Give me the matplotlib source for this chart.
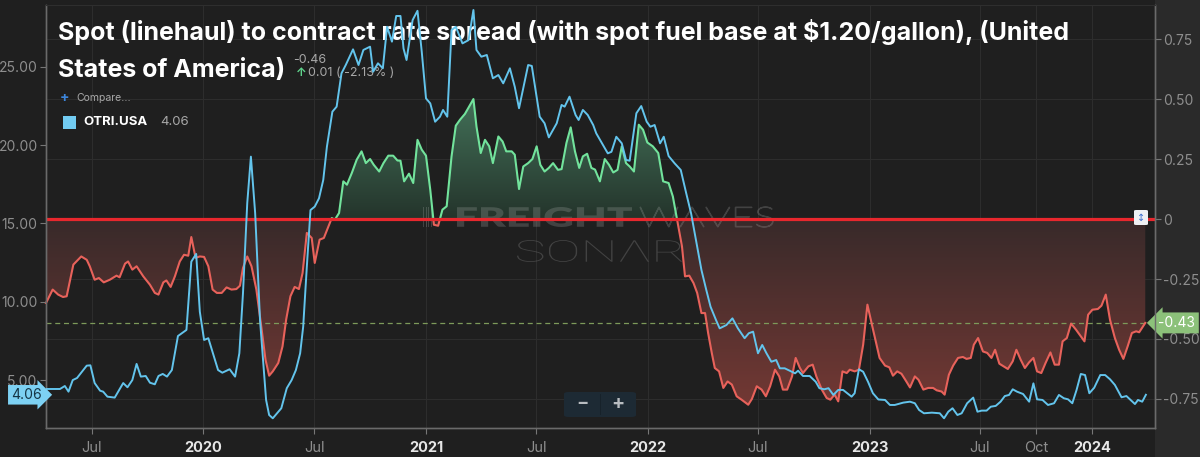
import numpy as np
import pandas as pd
import matplotlib
matplotlib.use("Agg")
import matplotlib.pyplot as plt
import matplotlib.dates as mdates
import matplotlib.colors as mcolors
import matplotlib.transforms as mtransforms
from matplotlib.patches import Rectangle, FancyBboxPatch, PathPatch
from matplotlib.path import Path
from matplotlib.textpath import TextPath
from matplotlib.font_manager import FontProperties

# OTRI.USA (left axis), weekly readings
otri_dates = [
    "2019-04-18", "2019-05-10", "2019-05-18", "2019-05-24", "2019-05-31", "2019-06-07", "2019-06-23",
    "2019-06-29", "2019-07-06", "2019-07-15", "2019-07-20", "2019-07-27", "2019-08-08", "2019-08-22",
    "2019-08-29", "2019-09-06", "2019-09-13", "2019-09-20", "2019-09-28", "2019-10-05", "2019-10-13",
    "2019-10-19", "2019-10-26", "2019-11-02", "2019-11-10", "2019-11-20", "2019-12-04", "2019-12-12",
    "2019-12-20", "2019-12-26", "2020-01-02", "2020-01-09", "2020-01-25", "2020-02-01", "2020-02-13",
    "2020-02-22", "2020-02-29", "2020-03-06", "2020-03-13", "2020-03-19", "2020-03-26", "2020-04-03",
    "2020-04-13", "2020-04-18", "2020-04-24", "2020-05-01", "2020-05-08", "2020-05-17", "2020-05-25",
    "2020-06-01", "2020-06-08", "2020-06-13", "2020-06-19", "2020-06-25", "2020-07-02", "2020-07-09",
    "2020-07-16", "2020-07-22", "2020-07-31", "2020-08-07", "2020-08-15", "2020-08-22", "2020-09-03",
    "2020-09-12", "2020-09-20", "2020-10-01", "2020-10-06", "2020-10-14", "2020-10-22", "2020-10-29",
    "2020-11-06", "2020-11-13", "2020-11-20", "2020-11-25", "2020-11-30", "2020-12-10", "2020-12-18",
    "2020-12-25", "2021-01-01", "2021-01-08", "2021-01-16", "2021-01-24", "2021-01-29", "2021-02-05",
    "2021-02-12", "2021-02-19", "2021-03-02", "2021-03-12", "2021-03-20", "2021-03-25", "2021-04-02",
    "2021-04-11", "2021-04-21", "2021-04-30", "2021-05-08", "2021-05-19", "2021-05-27", "2021-06-03",
    "2021-06-18", "2021-06-24", "2021-07-07", "2021-07-15", "2021-07-22", "2021-08-04", "2021-08-12",
    "2021-08-17", "2021-08-25", "2021-09-04", "2021-09-09", "2021-09-16", "2021-09-24", "2021-10-03",
    "2021-10-08", "2021-10-27", "2021-11-02", "2021-11-10", "2021-11-19", "2021-11-26", "2021-12-02",
    "2021-12-13", "2021-12-21", "2021-12-30", "2022-01-05", "2022-01-12", "2022-01-21", "2022-01-27",
    "2022-02-04", "2022-02-14", "2022-02-24", "2022-03-05", "2022-03-13", "2022-03-22", "2022-03-30",
    "2022-04-07", "2022-04-14", "2022-04-23", "2022-04-29", "2022-05-10", "2022-05-20", "2022-05-29",
    "2022-06-09", "2022-06-16", "2022-06-23", "2022-07-01", "2022-07-08", "2022-07-15", "2022-07-23",
    "2022-07-31", "2022-08-06", "2022-08-14", "2022-08-22", "2022-08-31", "2022-09-05", "2022-09-13",
    "2022-09-24", "2022-10-04", "2022-10-10", "2022-10-18", "2022-10-25", "2022-11-02", "2022-11-10",
    "2022-11-18", "2022-12-02", "2022-12-07", "2022-12-14", "2022-12-21", "2022-12-29", "2023-01-06",
    "2023-01-15", "2023-01-26", "2023-02-03", "2023-02-11", "2023-02-25", "2023-03-08", "2023-03-16",
    "2023-03-23", "2023-03-31", "2023-04-13", "2023-04-26", "2023-05-03", "2023-05-10", "2023-05-17",
    "2023-05-25", "2023-06-01", "2023-06-10", "2023-06-20", "2023-06-27", "2023-07-04", "2023-07-12",
    "2023-07-19", "2023-07-27", "2023-08-04", "2023-08-11", "2023-08-18", "2023-08-24", "2023-08-31",
    "2023-09-10", "2023-09-20", "2023-09-27", "2023-10-03", "2023-10-12", "2023-10-21", "2023-10-31",
    "2023-11-08", "2023-11-16", "2023-11-23", "2023-11-30", "2023-12-07", "2023-12-14", "2023-12-21",
    "2023-12-28", "2024-01-05", "2024-01-15", "2024-01-23", "2024-01-31", "2024-02-08", "2024-02-19",
    "2024-02-27", "2024-03-12", "2024-03-17", "2024-03-24", "2024-03-30",
]
otri_values = [
    4.43, 4.43, 4.62, 4.26, 5.00, 5.13, 5.92,
    5.94, 4.81, 4.32, 4.26, 3.94, 3.88, 4.81,
    4.54, 5.00, 6.03, 5.22, 5.26, 4.83, 4.73,
    5.26, 5.39, 5.22, 5.64, 7.81, 8.20, 12.56,
    13.05, 9.36, 7.56, 7.67, 5.64, 5.47, 5.69,
    5.22, 6.71, 10.56, 16.30, 19.26, 15.66, 8.83,
    3.73, 2.77, 2.56, 2.88, 3.20, 4.48, 5.00,
    5.64, 6.71, 8.41, 12.24, 15.85, 16.07, 16.60,
    17.77, 19.89, 22.13, 22.45, 24.58, 25.11, 26.11,
    25.11, 26.07, 26.28, 24.68, 25.22, 24.90, 27.55,
    26.60, 28.24, 28.24, 26.17, 25.43, 27.98, 28.57,
    25.96, 22.98, 22.66, 21.49, 21.81, 22.24, 21.81,
    27.34, 27.55, 26.49, 26.70, 28.62, 26.07, 25.64,
    25.75, 24.26, 24.47, 23.94, 24.90, 23.72, 22.35,
    25.11, 25.05, 21.81, 21.39, 20.49, 21.39, 22.56,
    22.45, 23.09, 21.92, 21.60, 22.24, 21.92, 21.28,
    20.75, 19.47, 19.57, 20.53, 20.11, 19.05, 19.00,
    22.03, 22.49, 21.49, 21.17, 21.28, 20.11, 20.53,
    19.30, 18.83, 18.41, 16.92, 15.64, 13.73, 12.03,
    10.75, 9.68, 8.83, 8.30, 8.51, 8.94, 8.30,
    7.67, 7.99, 8.09, 6.71, 7.24, 6.71, 6.17,
    6.28, 5.75, 5.75, 5.60, 5.43, 5.60, 5.26,
    5.26, 4.89, 4.48, 4.41, 4.48, 4.05, 4.37,
    4.37, 3.94, 4.16, 5.69, 5.53, 4.89, 4.16,
    3.76, 3.73, 3.41, 3.41, 3.56, 3.62, 3.52,
    3.09, 2.88, 2.92, 2.88, 2.56, 2.98, 3.20,
    2.77, 2.88, 3.52, 3.88, 2.98, 3.05, 3.05,
    3.30, 3.35, 3.62, 3.98, 4.05, 4.41, 4.26,
    4.11, 3.62, 4.79, 3.77, 3.73, 3.41, 3.52,
    4.05, 3.84, 3.77, 3.52, 4.37, 5.39, 5.32,
    4.16, 4.51, 5.32, 5.32, 5.05, 4.69, 3.90,
    3.98, 3.47, 3.73, 3.62, 4.06,
]

# spot (linehaul) to contract spread (right axis)
spread_dates = [
    "2019-04-17", "2019-04-28", "2019-05-07", "2019-05-15", "2019-05-21", "2019-06-01", "2019-06-14",
    "2019-06-23", "2019-06-28", "2019-07-06", "2019-07-13", "2019-07-21", "2019-07-31", "2019-08-11",
    "2019-08-16", "2019-08-25", "2019-08-30", "2019-09-06", "2019-09-13", "2019-09-24", "2019-10-05",
    "2019-10-13", "2019-10-19", "2019-10-27", "2019-11-01", "2019-11-08", "2019-11-15", "2019-11-23",
    "2019-11-30", "2019-12-07", "2019-12-12", "2019-12-19", "2019-12-26", "2020-01-02", "2020-01-09",
    "2020-01-16", "2020-01-23", "2020-01-31", "2020-02-08", "2020-02-16", "2020-02-24", "2020-03-01",
    "2020-03-06", "2020-03-13", "2020-03-20", "2020-03-28", "2020-04-05", "2020-04-12", "2020-04-18",
    "2020-04-24", "2020-05-03", "2020-05-10", "2020-05-16", "2020-05-23", "2020-05-30", "2020-06-06",
    "2020-06-12", "2020-06-19", "2020-06-27", "2020-07-02", "2020-07-10", "2020-07-17", "2020-07-30",
    "2020-08-04", "2020-08-11", "2020-08-18", "2020-08-24", "2020-09-01", "2020-09-09", "2020-09-17",
    "2020-09-24", "2020-10-01", "2020-10-07", "2020-10-16", "2020-10-23", "2020-10-31", "2020-11-08",
    "2020-11-15", "2020-11-20", "2020-11-26", "2020-12-04", "2020-12-11", "2020-12-18", "2020-12-25",
    "2021-01-01", "2021-01-08", "2021-01-14", "2021-01-21", "2021-01-28", "2021-02-04", "2021-02-12",
    "2021-02-19", "2021-02-26", "2021-03-06", "2021-03-13", "2021-03-20", "2021-03-25", "2021-04-01",
    "2021-04-08", "2021-04-15", "2021-04-21", "2021-04-30", "2021-05-07", "2021-05-13", "2021-05-22",
    "2021-05-27", "2021-06-03", "2021-06-10", "2021-06-18", "2021-06-25", "2021-07-02", "2021-07-08",
    "2021-07-15", "2021-07-22", "2021-07-29", "2021-08-06", "2021-08-12", "2021-08-20", "2021-08-27",
    "2021-09-03", "2021-09-10", "2021-09-16", "2021-09-23", "2021-09-30", "2021-10-06", "2021-10-14",
    "2021-10-22", "2021-10-29", "2021-11-05", "2021-11-12", "2021-11-19", "2021-11-26", "2021-12-02",
    "2021-12-09", "2021-12-17", "2021-12-24", "2021-12-31", "2022-01-09", "2022-01-18", "2022-01-26",
    "2022-02-04", "2022-02-11", "2022-02-17", "2022-02-26", "2022-03-03", "2022-03-10", "2022-03-17",
    "2022-03-23", "2022-03-30", "2022-04-05", "2022-04-10", "2022-04-16", "2022-04-21", "2022-04-28",
    "2022-05-05", "2022-05-12", "2022-05-19", "2022-05-27", "2022-06-04", "2022-06-15", "2022-06-21",
    "2022-06-29", "2022-07-07", "2022-07-14", "2022-07-21", "2022-07-29", "2022-08-05", "2022-08-11",
    "2022-08-18", "2022-08-26", "2022-09-01", "2022-09-08", "2022-09-13", "2022-09-22", "2022-09-29",
    "2022-10-05", "2022-10-14", "2022-10-22", "2022-10-28", "2022-11-04", "2022-11-10", "2022-11-17",
    "2022-11-24", "2022-11-29", "2022-12-07", "2022-12-14", "2022-12-21", "2022-12-28", "2023-01-05",
    "2023-01-17", "2023-01-26", "2023-02-02", "2023-02-08", "2023-02-15", "2023-02-22", "2023-03-02",
    "2023-03-08", "2023-03-16", "2023-03-22", "2023-03-30", "2023-04-07", "2023-04-15", "2023-04-21",
    "2023-04-29", "2023-05-04", "2023-05-11", "2023-05-18", "2023-05-26", "2023-06-03", "2023-06-09",
    "2023-06-16", "2023-06-21", "2023-06-28", "2023-07-06", "2023-07-13", "2023-07-20", "2023-07-26",
    "2023-08-02", "2023-08-09", "2023-08-16", "2023-08-24", "2023-08-30", "2023-09-06", "2023-09-13",
    "2023-09-20", "2023-09-27", "2023-10-03", "2023-10-10", "2023-10-17", "2023-10-25", "2023-11-01",
    "2023-11-08", "2023-11-14", "2023-11-21", "2023-11-28", "2023-12-06", "2023-12-12", "2023-12-20",
    "2023-12-26", "2024-01-02", "2024-01-11", "2024-01-17", "2024-01-24", "2024-01-31", "2024-02-08",
    "2024-02-15", "2024-02-22", "2024-02-29", "2024-03-07", "2024-03-14", "2024-03-19", "2024-03-29",
]
spread_values = [
    -0.350, -0.294, -0.315, -0.325, -0.322, -0.190, -0.156,
    -0.170, -0.197, -0.253, -0.246, -0.264, -0.253, -0.236,
    -0.243, -0.186, -0.177, -0.211, -0.197, -0.239, -0.274,
    -0.308, -0.315, -0.264, -0.256, -0.283, -0.239, -0.177,
    -0.149, -0.153, -0.075, -0.162, -0.156, -0.158, -0.197,
    -0.294, -0.308, -0.308, -0.285, -0.294, -0.292, -0.278,
    -0.204, -0.156, -0.197, -0.294, -0.447, -0.586, -0.653,
    -0.635, -0.600, -0.531, -0.419, -0.322, -0.283, -0.292,
    -0.225, -0.058, -0.079, -0.183, -0.086, -0.079, 0.004,
    -0.003, 0.025, 0.157, 0.143, 0.192, 0.247, 0.282,
    0.233, 0.250, 0.226, 0.198, 0.233, 0.264, 0.264,
    0.244, 0.243, 0.157, 0.189, 0.150, 0.330, 0.289,
    0.264, 0.122, -0.024, -0.028, 0.039, 0.053, 0.261,
    0.389, 0.414, 0.438, 0.469, 0.500, 0.386, 0.275,
    0.330, 0.303, 0.233, 0.344, 0.323, 0.282, 0.282,
    0.268, 0.125, 0.219, 0.233, 0.250, 0.303, 0.226,
    0.198, 0.213, 0.233, 0.205, 0.208, 0.317, 0.382,
    0.282, 0.213, 0.261, 0.272, 0.213, 0.206, 0.157,
    0.250, 0.226, 0.194, 0.205, 0.303, 0.233, 0.219,
    0.198, 0.393, 0.372, 0.319, 0.303, 0.275, 0.157,
    0.150, 0.094, 0.011, -0.114, -0.239, -0.236, -0.267,
    -0.308, -0.392, -0.392, -0.475, -0.558, -0.621, -0.635,
    -0.704, -0.677, -0.690, -0.739, -0.753, -0.774, -0.750,
    -0.697, -0.711, -0.739, -0.697, -0.628, -0.656, -0.711,
    -0.711, -0.656, -0.579, -0.621, -0.642, -0.614, -0.607,
    -0.656, -0.711, -0.746, -0.753, -0.732, -0.760, -0.635,
    -0.642, -0.628, -0.635, -0.628, -0.524, -0.357, -0.447,
    -0.579, -0.611, -0.618, -0.653, -0.635, -0.645, -0.677,
    -0.702, -0.656, -0.670, -0.711, -0.704, -0.704, -0.714,
    -0.719, -0.732, -0.649, -0.611, -0.579, -0.575, -0.583,
    -0.579, -0.524, -0.496, -0.552, -0.558, -0.579, -0.545,
    -0.603, -0.614, -0.625, -0.593, -0.545, -0.586, -0.621,
    -0.597, -0.579, -0.635, -0.642, -0.600, -0.556, -0.607,
    -0.607, -0.510, -0.496, -0.436, -0.461, -0.482, -0.510,
    -0.399, -0.378, -0.375, -0.361, -0.315, -0.420, -0.496,
    -0.545, -0.583, -0.531, -0.475, -0.468, -0.472, -0.433,
]

x_ticks = ["2019-07-01", "2020-01-01", "2020-07-01", "2021-01-01", "2021-07-01", "2022-01-01",
           "2022-07-01", "2023-01-01", "2023-07-01", "2023-10-01", "2024-01-01"]
x_labels = ["Jul", "2020", "Jul", "2021", "Jul", "2022", "Jul", "2023", "Jul", "Oct", "2024"]
otri_ticks = [5, 10, 15, 20, 25]
spread_ticks = [-0.75, -0.5, -0.25, 0, 0.25, 0.5, 0.75]

TITLE_1 = "Spot (linehaul) to contract rate spread (with spot fuel base at $1.20/gallon), (United"
TITLE_2 = "States of America)"

BG = "#1f1f1f"
BLUE = "#63c4ec"
RED = "#e8625b"
GREEN = "#72e39c"
ZERO_RED = "#e8272d"
GRID = "#2d2d2d"
TICK_GRAY = "#8e8e8e"
FONT = ["Inter", "DejaVu Sans"]

W, H = 1200, 457


def fx(px):
    return px / W


def fy(py):
    return 1 - py / H


def gradient_fill(ax, x, y, mask, lo, hi, c_lo, c_hi):
    coll = ax.fill_between(x, y, 0, where=mask, interpolate=True, facecolor="none", edgecolor="none")
    clip = PathPatch(Path.make_compound_path(*coll.get_paths()), transform=ax.transData,
                     facecolor="none", edgecolor="none")
    ax.add_patch(clip)
    c0 = np.array(mcolors.to_rgba(c_lo))
    c1 = np.array(mcolors.to_rgba(c_hi))
    t = np.linspace(0, 1, 256)[:, None]
    img = (c0 + (c1 - c0) * t)[:, None, :]
    im = ax.imshow(img, extent=[x.min(), x.max(), lo, hi], origin="lower", aspect="auto",
                   interpolation="bilinear", zorder=1.5)
    im.set_clip_path(clip)


def watermark(ax, s, box, family, weight, **style):
    # text outline stretched to fill a pixel box (x0, x1, top, bottom)
    x0, x1, top, bottom = box
    tp = TextPath((0, 0), s, size=10, prop=FontProperties(family=family, weight=weight))
    bb = tp.get_extents()
    tr = (mtransforms.Affine2D().translate(-bb.x0, -bb.y0)
          .scale((x1 - x0) / bb.width, (bottom - top) / bb.height)
          .translate(x0, H - bottom).scale(1 / W, 1 / H) + ax.figure.transFigure)
    ax.add_patch(PathPatch(tp, transform=tr, zorder=2, **style))


plt.rcParams["font.family"] = FONT

otri_x = mdates.date2num(pd.to_datetime(otri_dates))
otri_y = np.array(otri_values)
sp_x = mdates.date2num(pd.to_datetime(spread_dates))
sp_y = np.array(spread_values)

fig = plt.figure(figsize=(12, 4.57), dpi=100, facecolor=BG)
fig.patches.append(Rectangle((fx(1155), 0), 1 - fx(1155), 1, transform=fig.transFigure,
                             facecolor="#2a2a2a", edgecolor="none", zorder=-5))

# spread axis is the base (right ticks), OTRI twin sits on top
ax = fig.add_axes([fx(46), 1 - 428 / H, fx(1155) - fx(46), (428 - 5) / H])
ax.set_facecolor(BG)
axo = ax.twinx()
ax.yaxis.tick_right()
axo.yaxis.tick_left()

xmin = mdates.date2num(pd.Timestamp("2019-04-17"))
xmax = mdates.date2num(pd.Timestamp("2024-04-14"))

# gradient fills
gradient_fill(ax, sp_x, sp_y, sp_y <= 0, -0.87, 0.0, "#7a3a35", "#382a2a")
gradient_fill(ax, sp_x, sp_y, sp_y >= 0, 0.0, 0.52, "#24342b", "#44735a")

# FreightWaves SONAR watermark, above the fills and under the lines
wm_col = (0.75, 0.75, 0.75, 0.22)
watermark(ax, "||||", (423, 432, 207, 227), "Lato", "normal", facecolor=wm_col, edgecolor="none")
watermark(ax, "FREIGHT", (457, 632, 207, 227), "Lato", "heavy", facecolor=wm_col, edgecolor="none")
watermark(ax, "WAVES", (640, 773, 207, 227), "Lato", "light", facecolor="none", edgecolor=wm_col, lw=0.9)
watermark(ax, "SONΛR", (517, 682, 240, 262), "Roboto", "light", facecolor=wm_col, edgecolor="none")

ln_r, = ax.plot(sp_x, sp_y, color=RED, lw=1.5, zorder=3)
ln_r.set_clip_path(Rectangle((0, -10), 1e6, 10, transform=ax.transData))
ln_g, = ax.plot(sp_x, sp_y, color=GREEN, lw=1.5, zorder=3)
ln_g.set_clip_path(Rectangle((0, 0), 1e6, 10, transform=ax.transData))

ax.axhline(0, color=ZERO_RED, lw=2.3, zorder=4)
ax.axhline(spread_values[-1], color="#7d9a5a", lw=0.9, ls=(0, (4, 3)), zorder=2.5)

axo.plot(otri_x, otri_y, color=BLUE, lw=1.4, zorder=3)

ax.set_xlim(xmin, xmax)
ax.set_ylim(-0.871, 0.892)
axo.set_ylim(1.94, 28.94)

# ticks and grid
ax.set_xticks(mdates.date2num(pd.to_datetime(x_ticks)))
ax.set_xticklabels(x_labels)
for lab, txt in zip(ax.get_xticklabels(), x_labels):
    if txt.isdigit():
        lab.set_color("#e6e6e6")
        lab.set_fontweight("bold")
    else:
        lab.set_color(TICK_GRAY)
    lab.set_fontsize(10.5)
ax.tick_params(axis="x", length=4, color="#777777", pad=5)

ax.set_yticks(spread_ticks)
ax.set_yticklabels(["0" if v == 0 else f"{v:.2f}" for v in spread_ticks])
ax.tick_params(axis="y", length=4, color="#777777", labelcolor=TICK_GRAY, labelsize=10, pad=2)
axo.set_yticks(otri_ticks)
axo.set_yticklabels([f"{v:.2f}" for v in otri_ticks])
axo.tick_params(axis="y", length=4, color="#777777", labelcolor=TICK_GRAY, labelsize=10, pad=2)

ax.grid(True, color=GRID, lw=0.8, zorder=0)
ax.set_axisbelow(True)

for a in (ax, axo):
    for side in ("left", "right", "bottom"):
        a.spines[side].set_color("#6a6a6a")
        a.spines[side].set_linewidth(1.0)
    a.spines["top"].set_color("#2e2e2e")

# last value tags
ax.text(1.003, spread_values[-1], "-0.43", transform=mtransforms.blended_transform_factory(ax.transAxes, ax.transData),
        ha="left", va="center", fontsize=10, color="white", zorder=6,
        bbox=dict(boxstyle="larrow,pad=0.25", fc="#8cc17a", ec="none"))
axo.text(-0.004, otri_values[-1], "4.06", transform=mtransforms.blended_transform_factory(axo.transAxes, axo.transData),
         ha="right", va="center", fontsize=10, color="#153545", zorder=6,
         bbox=dict(boxstyle="rarrow,pad=0.2", fc="#7dd1f3", ec="none"))

# title and header, drawn under the OTRI line like the original
hd = dict(transform=fig.transFigure, ha="left", va="center", zorder=1)
axo.text(fx(58), fy(32), TITLE_1, fontsize=18, fontweight="bold", color="white", **hd)
axo.text(fx(58), fy(70), TITLE_2, fontsize=18, fontweight="bold", color="white", **hd)
axo.text(fx(293), fy(60), "-0.46", fontsize=9, color="#a8a8a8", **hd)
axo.text(fx(296), fy(73), "↑", fontsize=8.5, fontweight="bold", color="#5fd38c", **hd)
axo.text(fx(308), fy(73), "0.01 ( -2.13% )", fontsize=9, color="#a8a8a8", **hd)
axo.text(fx(60), fy(98), "+", fontsize=10, fontweight="bold", color="#3d86dc", **hd)
axo.text(fx(76), fy(98), "Compare...", fontsize=7.5, color="#a8a8a8", **hd)
axo.text(fx(83), fy(122), "OTRI.USA", fontsize=9.5, fontweight="bold", color="white", **hd)
axo.text(fx(160), fy(122), "4.06", fontsize=9.5, color="#a8a8a8", **hd)
fig.patches.append(Rectangle((fx(63), fy(129)), fx(13), 13 / H, transform=fig.transFigure,
                             facecolor="#72ccf2", edgecolor="none", zorder=5))

# zoom buttons
fig.patches.append(FancyBboxPatch((fx(564), fy(417)), fx(72), 25 / H, boxstyle="round,pad=0,rounding_size=0.004",
                                  transform=fig.transFigure, facecolor="#1d2a34", edgecolor="none", zorder=5))
fig.patches.append(Rectangle((fx(600), fy(415)), fx(1), 21 / H, transform=fig.transFigure,
                             facecolor="#17222a", edgecolor="none", zorder=6))
fig.text(fx(582), fy(404), "−", fontsize=13, fontweight="bold", color="#b8bcc0", ha="center", va="center", zorder=7)
fig.text(fx(618), fy(404), "+", fontsize=14, fontweight="bold", color="#b8bcc0", ha="center", va="center", zorder=7)

# axis handle on the zero line
fig.patches.append(FancyBboxPatch((fx(1134), fy(225)), fx(14), 15 / H, boxstyle="round,pad=0,rounding_size=0.002",
                                  transform=fig.transFigure, facecolor="#eef0f3", edgecolor="none", zorder=6))
fig.text(fx(1141), fy(217.5), "↕", fontsize=7, color="#3d6fcf", ha="center", va="center", zorder=7,
         family=["DejaVu Sans"])

fig.savefig("out.png", dpi=100, facecolor=fig.get_facecolor())
